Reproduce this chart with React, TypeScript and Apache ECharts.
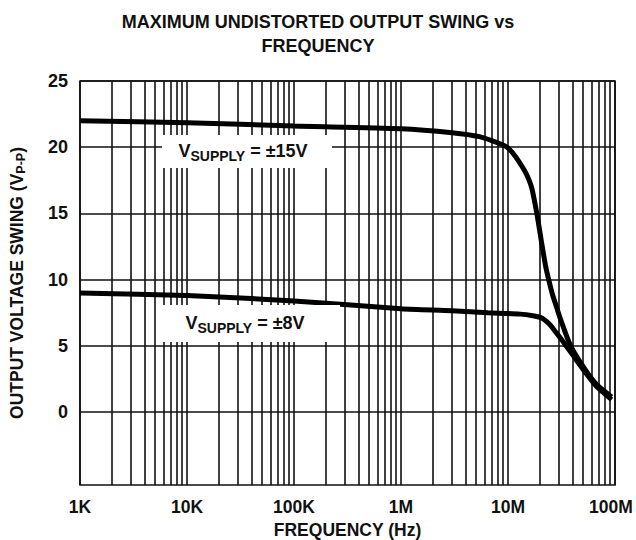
import React, { useEffect, useRef } from "react";
import * as echarts from "echarts";

const FREQ_15V = [1e3, 1e4, 1e5, 1e6, 3e6, 5.4e6, 8.2e6, 1.0e7, 1.15e7, 1.34e7, 1.5e7, 1.67e7, 1.86e7, 2.08e7, 2.25e7, 2.4e7, 2.6e7, 2.8e7, 3.1e7, 3.85e7, 5.17e7, 6.7e7, 9.3e7];
const SWING_15V = [22.0, 21.85, 21.6, 21.4, 21.1, 20.8, 20.3, 19.95, 19.4, 18.6, 17.9, 16.9, 15.0, 12.6, 11.0, 10.0, 8.9, 8.1, 7.0, 5.0, 3.3, 2.1, 1.15];

const FREQ_8V = [1e3, 1e4, 1e5, 1e6, 3e6, 6.5e6, 1.0e7, 1.3e7, 1.65e7, 2.0e7, 2.25e7, 2.47e7, 2.7e7, 2.95e7, 3.5e7, 4.3e7, 5.17e7, 6.7e7, 9.3e7];
const SWING_8V = [9.0, 8.8, 8.4, 7.8, 7.65, 7.5, 7.45, 7.4, 7.3, 7.15, 6.9, 6.6, 6.2, 5.8, 5.0, 4.0, 3.1, 1.95, 0.95];

const X_TICKS = [1e3, 1e4, 1e5, 1e6, 1e7, 1e8];
const X_TICK_LABELS = ["1K", "10K", "100K", "1M", "10M", "100M"];
const Y_TICKS = [0, 5, 10, 15, 20, 25];
const MULTIPLIERS = [1, 2, 3, 4, 5, 6, 7, 8, 9];

const FONT = "Liberation Sans, Arial, sans-serif";

export default function App() {
  const ref = useRef<HTMLDivElement>(null);
  useEffect(() => {
    if (!ref.current) return;
    const chart = echarts.init(ref.current, null, { renderer: "svg" });

    const vLines: any[] = [];
    for (let d = 0; d < X_TICKS.length - 1; d++) {
      for (const m of MULTIPLIERS) vLines.push({ xAxis: X_TICKS[d] * m });
    }
    vLines.push({ xAxis: X_TICKS[X_TICKS.length - 1] });
    const hLines = Y_TICKS.map((v) => ({ yAxis: v }));

    const toXY = (fs: number[], vs: number[]) => fs.map((f, i) => [f, vs[i]]);

    const gridLineStyle = { color: "#111", width: 1.6, type: "solid" as const };
    const subStyle = { fontFamily: FONT, fontWeight: "bold", fontSize: 14, fill: "#111", padding: [10, 0, 0, 0] };
    const tickFont = { fontFamily: FONT, fontWeight: "bold", fontSize: 17.5, color: "#111" };

    chart.setOption({
      animation: false,
      backgroundColor: "#fff",
      title: {
        text: "MAXIMUM UNDISTORTED OUTPUT SWING vs\nFREQUENCY",
        left: "center",
        top: 5,
        textStyle: { fontFamily: FONT, fontWeight: "bold", fontSize: 18, color: "#111", lineHeight: 24 },
      },
      grid: {
        left: 80, right: 21, top: 81, bottom: 55,
        outerBoundsMode: "none",
        containLabel: false,
        show: true, borderColor: "#111", borderWidth: 1.6, backgroundColor: "#fff",
      },
      xAxis: {
        type: "log",
        logBase: 10,
        min: 1e3,
        max: 1e8,
        name: "FREQUENCY (Hz)",
        nameLocation: "middle",
        nameGap: 35,
        nameTextStyle: { fontFamily: FONT, fontWeight: "bold", fontSize: 17.5, color: "#111" },
        axisLine: { show: false },
        axisTick: { show: false },
        splitLine: { show: false },
        minorSplitLine: { show: false },
        axisLabel: {
          customValues: X_TICKS,
          margin: 13,
          ...tickFont,
          rich: { last: { ...tickFont, padding: [0, 8, 0, 0] } },
          formatter: (v: number) => {
            const i = X_TICKS.findIndex((t) => Math.abs(Math.log10(t) - Math.log10(v)) < 1e-6);
            if (i < 0) return "";
            return i === X_TICKS.length - 1 ? "{last|" + X_TICK_LABELS[i] + "}" : X_TICK_LABELS[i];
          },
        },
      },
      yAxis: {
        type: "value",
        min: -5.5,
        max: 25,
        name: "OUTPUT VOLTAGE SWING (V{sub|P-P})",
        nameLocation: "middle",
        nameRotate: 90,
        nameGap: 53,
        nameTextStyle: {
          fontFamily: FONT,
          fontWeight: "bold",
          fontSize: 17.5,
          color: "#111",
          rich: {
            sub: { fontFamily: FONT, fontWeight: "bold", fontSize: 12.5, color: "#111", padding: [7, 0, 0, 0] },
          },
        },
        axisLine: { show: false },
        axisTick: { show: false },
        splitLine: { show: false },
        axisLabel: {
          customValues: Y_TICKS,
          margin: 12,
          fontFamily: FONT,
          fontWeight: "bold",
          fontSize: 18,
          color: "#111",
        },
      },
      series: [
        {
          type: "line",
          data: [],
          z: 1,
          silent: true,
          markLine: {
            silent: true,
            symbol: ["none", "none"],
            label: { show: false },
            lineStyle: gridLineStyle,
            data: [...vLines, ...hLines],
          },
        },
        {
          name: "±15V",
          type: "line",
          data: toXY(FREQ_15V, SWING_15V),
          smooth: 0.25,
          showSymbol: false,
          z: 5,
          lineStyle: { color: "#000", width: 5 },
        },
        {
          name: "±8V",
          type: "line",
          data: toXY(FREQ_8V, SWING_8V),
          smooth: 0.25,
          showSymbol: false,
          z: 5,
          lineStyle: { color: "#000", width: 5 },
        },
      ],
      graphic: [
        { type: "rect", z: 50, shape: { x: 162, y: 135, width: 170, height: 33 }, style: { fill: "#fff" } },
        { type: "rect", z: 50, shape: { x: 157, y: 305, width: 183, height: 37 }, style: { fill: "#fff" } },
        {
          type: "text",
          z: 60,
          x: 243,
          y: 139,
          style: {
            text: "V{sub|SUPPLY} = ±15V",
            fontFamily: FONT,
            fontWeight: "bold",
            fontSize: 18,
            fill: "#111",
            align: "center",
            verticalAlign: "top",
            rich: { sub: subStyle },
          },
        },
        {
          type: "text",
          z: 60,
          x: 245,
          y: 311,
          style: {
            text: "V{sub|SUPPLY} = ±8V",
            fontFamily: FONT,
            fontWeight: "bold",
            fontSize: 18,
            fill: "#111",
            align: "center",
            verticalAlign: "top",
            rich: { sub: subStyle },
          },
        },
      ],
    });
    return () => chart.dispose();
  }, []);
  return <div ref={ref} style={{ position: "fixed", left: 0, top: 0, width: 636, height: 540 }} />;
}
